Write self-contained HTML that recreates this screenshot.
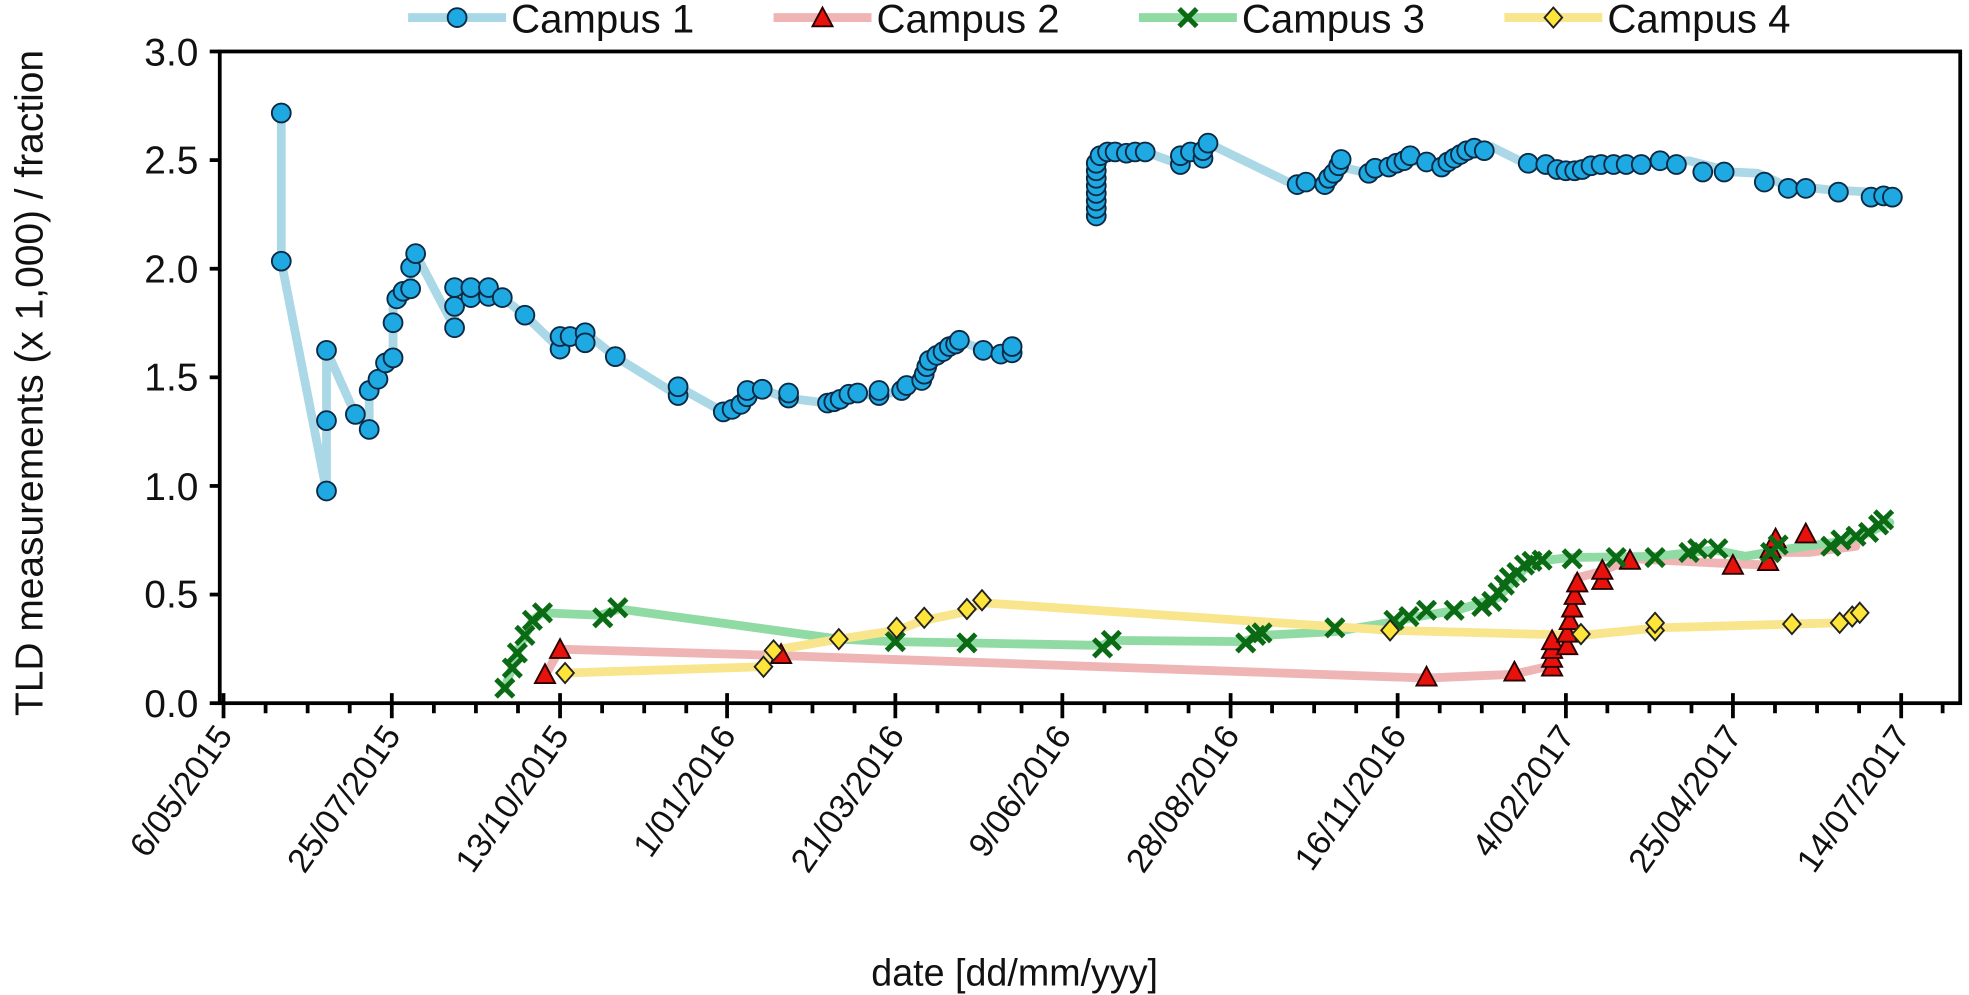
<!DOCTYPE html>
<html><head><meta charset="utf-8"><style>
html,body{margin:0;padding:0;background:#fff;}
svg{display:block;}
text{font-family:"Liberation Sans",Arial,sans-serif;fill:#111;}
</style></head><body>
<svg width="1969" height="995" viewBox="0 0 1568 792.4" preserveAspectRatio="none" xmlns="http://www.w3.org/2000/svg">
<defs>
<symbol id="c" overflow="visible"><circle cx="0" cy="0" r="7.5" fill="#1ea9e2" stroke="#0b2a45" stroke-width="1.5"/></symbol>
<symbol id="t" overflow="visible"><polygon points="0,-9 8,6 -8,6" fill="#e8120c" stroke="#2a0000" stroke-width="1.5"/></symbol>
<symbol id="x" overflow="visible"><path d="M-7,-7L7,7M-7,7L7,-7" stroke="#0b6a14" stroke-width="4"/></symbol>
<symbol id="d" overflow="visible"><polygon points="0,-8 7,0 0,8 -7,0" fill="#ffe53a" stroke="#222" stroke-width="1.5"/></symbol>
</defs>

<rect x="175" y="41" width="1386" height="519" fill="none" stroke="#000" stroke-width="3"/>
<g stroke="#000" stroke-width="3">
<line x1="167" y1="41" x2="175" y2="41"/><line x1="167" y1="127.5" x2="175" y2="127.5"/>
<line x1="167" y1="214" x2="175" y2="214"/><line x1="167" y1="300.5" x2="175" y2="300.5"/>
<line x1="167" y1="387" x2="175" y2="387"/><line x1="167" y1="473.5" x2="175" y2="473.5"/>
<line x1="167" y1="560" x2="175" y2="560"/>
</g>
<g font-size="31" text-anchor="end">
<text x="158" y="52">3.0</text><text x="158" y="138">2.5</text><text x="158" y="225">2.0</text>
<text x="158" y="311">1.5</text><text x="158" y="398">1.0</text><text x="158" y="484">0.5</text><text x="158" y="571">0.0</text>
</g>
<g stroke="#000" stroke-width="3">
<line x1="178" y1="552" x2="178" y2="572"/><line x1="312" y1="552" x2="312" y2="572"/><line x1="446" y1="552" x2="446" y2="572"/>
<line x1="579" y1="552" x2="579" y2="572"/><line x1="713" y1="552" x2="713" y2="572"/><line x1="846" y1="552" x2="846" y2="572"/>
<line x1="980" y1="552" x2="980" y2="572"/><line x1="1113" y1="552" x2="1113" y2="572"/><line x1="1247" y1="552" x2="1247" y2="572"/>
<line x1="1380" y1="552" x2="1380" y2="572"/><line x1="1514" y1="552" x2="1514" y2="572"/>
<path d="M211.5,560v8M245,560v8M278.5,560v8M345.5,560v8M379,560v8M412.5,560v8M479.5,560v8M513,560v8M546.5,560v8M613.5,560v8M647,560v8M680.5,560v8M746.5,560v8M780,560v8M813.5,560v8M879.5,560v8M913,560v8M946.5,560v8M1013,560v8M1046.5,560v8M1080,560v8M1146.5,560v8M1180,560v8M1213.5,560v8M1280,560v8M1313.5,560v8M1347,560v8M1413.5,560v8M1447,560v8M1480.5,560v8M1547,560v8"/>
</g>
<g font-size="27" text-anchor="end">
<text transform="translate(186,586) rotate(-55)">6/05/2015</text>
<text transform="translate(320,586) rotate(-55)">25/07/2015</text>
<text transform="translate(454,586) rotate(-55)">13/10/2015</text>
<text transform="translate(587,586) rotate(-55)">1/01/2016</text>
<text transform="translate(721,586) rotate(-55)">21/03/2016</text>
<text transform="translate(854,586) rotate(-55)">9/06/2016</text>
<text transform="translate(988,586) rotate(-55)">28/08/2016</text>
<text transform="translate(1121,586) rotate(-55)">16/11/2016</text>
<text transform="translate(1255,586) rotate(-55)">4/02/2017</text>
<text transform="translate(1388,586) rotate(-55)">25/04/2017</text>
<text transform="translate(1522,586) rotate(-55)">14/07/2017</text>
</g>
<text x="808" y="785" font-size="30" text-anchor="middle">date [dd/mm/yyy]</text>
<text transform="translate(34,305) rotate(-90)" font-size="31" text-anchor="middle">TLD measurements (x 1,000) / fraction</text>

<line x1="325" y1="14" x2="403" y2="14" stroke="#a8d8e6" stroke-width="7"/><use href="#c" x="364" y="14"/>
<text x="407" y="26" font-size="32">Campus 1</text>
<line x1="616" y1="14" x2="694" y2="14" stroke="#efb5b5" stroke-width="7"/><use href="#t" x="655" y="15"/>
<text x="698" y="26" font-size="32">Campus 2</text>
<line x1="907" y1="14" x2="985" y2="14" stroke="#90dba3" stroke-width="7"/><use href="#x" x="946" y="14"/>
<text x="989" y="26" font-size="32">Campus 3</text>
<line x1="1198" y1="14" x2="1276" y2="14" stroke="#f9e58c" stroke-width="7"/><use href="#d" x="1237" y="14"/>
<text x="1280" y="26" font-size="32">Campus 4</text>

<g fill="none" stroke-width="7" stroke-linejoin="round" stroke-linecap="round">
<polyline stroke="#aad8e6" points="224,90 224,208 260,391 260,335 260,279 283,330 294,342 294,311 301,302 307,289 313,285 313,257 313,238 319,234 327,230 327,213 331,202 362,261 362,244 362,229 375,237 389,236 400,237 418,251 446,278 454,268 466,265 490,284 540,315 540,308 576,328 583,326 590,322 595,316 607,310 626,317 659,321 669,323 679,314 700,315 718,311 734,303 740,287 751,280 764,271 783,279 798,282 806,276"/>
<polyline stroke="#aad8e6" points="870,172 870,130 875,122 912,121 940,131 948,121 962,114 1030,147 1052,146 1068,133 1090,138 1124,128 1148,132 1188,117 1210,128 1240,137 1258,137 1278,131 1320,129 1345,128 1380,137 1400,138 1420,147 1455,151 1490,153 1507,157"/>
<polyline stroke="#efb5b5" points="434,538 446,517 620,522 1136,540 1205,537 1236,530 1250,500 1256,460 1272,456 1300,445 1380,449 1410,450 1415,440 1440,440 1478,435"/>
<polyline stroke="#90dba3" points="402,548 413,517 424,494 432,488 478,490 493,485 668,509 710,511 770,512 878,514 885,510 990,511 1005,506 1063,503 1105,496 1135,490 1160,486 1193,476 1213,454 1225,447 1250,444 1320,443 1365,438 1390,443 1425,437 1460,432 1480,428 1505,416"/>
<polyline stroke="#f9e58c" points="450,536 607,531 615,518 668,509 714,502 736,494 770,487 782,480 1107,502 1260,506 1320,500 1427,497 1465,496 1480,490"/>
</g>

<g>
<use href="#c" x="224" y="90"/><use href="#c" x="224" y="208"/><use href="#c" x="260" y="391"/><use href="#c" x="260" y="335"/><use href="#c" x="260" y="279"/><use href="#c" x="283" y="330"/><use href="#c" x="294" y="342"/><use href="#c" x="294" y="311"/><use href="#c" x="301" y="302"/><use href="#c" x="307" y="289"/><use href="#c" x="313" y="285"/><use href="#c" x="313" y="257"/><use href="#c" x="316" y="238"/><use href="#c" x="321" y="232"/><use href="#c" x="327" y="230"/><use href="#c" x="327" y="213"/><use href="#c" x="331" y="202"/><use href="#c" x="362" y="261"/><use href="#c" x="362" y="244"/><use href="#c" x="362" y="229"/><use href="#c" x="375" y="237"/><use href="#c" x="375" y="229"/><use href="#c" x="389" y="236"/><use href="#c" x="389" y="229"/><use href="#c" x="400" y="237"/><use href="#c" x="418" y="251"/><use href="#c" x="446" y="278"/><use href="#c" x="446" y="268"/><use href="#c" x="454" y="268"/><use href="#c" x="466" y="265"/><use href="#c" x="466" y="273"/><use href="#c" x="490" y="284"/><use href="#c" x="540" y="315"/><use href="#c" x="540" y="308"/><use href="#c" x="576" y="328"/><use href="#c" x="583" y="326"/><use href="#c" x="590" y="322"/><use href="#c" x="595" y="316"/><use href="#c" x="595" y="311"/><use href="#c" x="607" y="310"/><use href="#c" x="628" y="317"/><use href="#c" x="628" y="313"/><use href="#c" x="659" y="321"/><use href="#c" x="664" y="320"/><use href="#c" x="669" y="318"/><use href="#c" x="676" y="314"/><use href="#c" x="683" y="313"/><use href="#c" x="700" y="315"/><use href="#c" x="700" y="311"/><use href="#c" x="718" y="311"/><use href="#c" x="722" y="307"/><use href="#c" x="734" y="303"/><use href="#c" x="736" y="298"/><use href="#c" x="738" y="292"/><use href="#c" x="740" y="287"/><use href="#c" x="746" y="283"/><use href="#c" x="751" y="280"/><use href="#c" x="756" y="276"/><use href="#c" x="761" y="274"/><use href="#c" x="764" y="271"/><use href="#c" x="783" y="279"/><use href="#c" x="797" y="282"/><use href="#c" x="806" y="281"/><use href="#c" x="806" y="276"/>
<use href="#c" x="873" y="172"/><use href="#c" x="873" y="166"/><use href="#c" x="873" y="160"/><use href="#c" x="873" y="154"/><use href="#c" x="873" y="148"/><use href="#c" x="873" y="142"/><use href="#c" x="873" y="136"/><use href="#c" x="873" y="130"/><use href="#c" x="876" y="124"/><use href="#c" x="882" y="121"/><use href="#c" x="888" y="121"/><use href="#c" x="897" y="122"/><use href="#c" x="904" y="121"/><use href="#c" x="912" y="121"/><use href="#c" x="940" y="131"/><use href="#c" x="940" y="124"/><use href="#c" x="948" y="121"/><use href="#c" x="958" y="126"/><use href="#c" x="958" y="120"/><use href="#c" x="962" y="114"/><use href="#c" x="1033" y="147"/><use href="#c" x="1040" y="145"/><use href="#c" x="1055" y="147"/><use href="#c" x="1058" y="142"/><use href="#c" x="1062" y="138"/><use href="#c" x="1066" y="132"/><use href="#c" x="1068" y="127"/><use href="#c" x="1090" y="138"/><use href="#c" x="1095" y="134"/><use href="#c" x="1106" y="133"/><use href="#c" x="1112" y="130"/><use href="#c" x="1118" y="128"/><use href="#c" x="1123" y="124"/><use href="#c" x="1136" y="129"/><use href="#c" x="1148" y="133"/><use href="#c" x="1153" y="129"/><use href="#c" x="1158" y="126"/><use href="#c" x="1163" y="123"/><use href="#c" x="1168" y="120"/><use href="#c" x="1174" y="118"/><use href="#c" x="1182" y="120"/><use href="#c" x="1217" y="130"/><use href="#c" x="1231" y="131"/><use href="#c" x="1240" y="135"/><use href="#c" x="1247" y="136"/><use href="#c" x="1254" y="136"/><use href="#c" x="1260" y="135"/><use href="#c" x="1267" y="132"/><use href="#c" x="1275" y="131"/><use href="#c" x="1285" y="131"/><use href="#c" x="1295" y="131"/><use href="#c" x="1307" y="131"/><use href="#c" x="1322" y="128"/><use href="#c" x="1335" y="131"/><use href="#c" x="1356" y="137"/><use href="#c" x="1373" y="137"/><use href="#c" x="1405" y="145"/><use href="#c" x="1424" y="150"/><use href="#c" x="1438" y="150"/><use href="#c" x="1464" y="153"/><use href="#c" x="1490" y="157"/><use href="#c" x="1500" y="156"/><use href="#c" x="1507" y="157"/>
</g>
<g>
<use href="#t" x="434" y="538"/><use href="#t" x="446" y="518"/><use href="#t" x="622" y="522"/><use href="#t" x="1136" y="540"/><use href="#t" x="1206" y="536"/><use href="#t" x="1236" y="532"/><use href="#t" x="1236" y="525"/><use href="#t" x="1236" y="518"/><use href="#t" x="1236" y="511"/><use href="#t" x="1248" y="515"/><use href="#t" x="1248" y="505"/><use href="#t" x="1250" y="495"/><use href="#t" x="1252" y="485"/><use href="#t" x="1254" y="475"/><use href="#t" x="1256" y="465"/><use href="#t" x="1276" y="463"/><use href="#t" x="1276" y="455"/><use href="#t" x="1298" y="447"/><use href="#t" x="1380" y="451"/><use href="#t" x="1408" y="448"/><use href="#t" x="1410" y="438"/><use href="#t" x="1414" y="430"/><use href="#t" x="1438" y="426"/>
</g>
<g>
<use href="#x" x="402" y="548"/><use href="#x" x="408" y="532"/><use href="#x" x="412" y="520"/><use href="#x" x="418" y="506"/><use href="#x" x="424" y="494"/><use href="#x" x="432" y="488"/><use href="#x" x="480" y="492"/><use href="#x" x="492" y="484"/><use href="#x" x="713" y="511"/><use href="#x" x="770" y="512"/><use href="#x" x="878" y="516"/><use href="#x" x="885" y="510"/><use href="#x" x="992" y="512"/><use href="#x" x="1000" y="506"/><use href="#x" x="1005" y="504"/><use href="#x" x="1063" y="500"/><use href="#x" x="1110" y="494"/><use href="#x" x="1122" y="491"/><use href="#x" x="1136" y="486"/><use href="#x" x="1158" y="486"/><use href="#x" x="1180" y="483"/><use href="#x" x="1188" y="479"/><use href="#x" x="1193" y="472"/><use href="#x" x="1198" y="466"/><use href="#x" x="1202" y="460"/><use href="#x" x="1208" y="456"/><use href="#x" x="1214" y="450"/><use href="#x" x="1220" y="447"/><use href="#x" x="1228" y="446"/><use href="#x" x="1252" y="445"/><use href="#x" x="1287" y="444"/><use href="#x" x="1318" y="444"/><use href="#x" x="1345" y="440"/><use href="#x" x="1352" y="437"/><use href="#x" x="1368" y="437"/><use href="#x" x="1410" y="440"/><use href="#x" x="1416" y="434"/><use href="#x" x="1458" y="435"/><use href="#x" x="1466" y="430"/><use href="#x" x="1478" y="427"/><use href="#x" x="1488" y="424"/><use href="#x" x="1496" y="418"/><use href="#x" x="1500" y="414"/>
</g>
<g>
<use href="#d" x="450" y="536"/><use href="#d" x="608" y="531"/><use href="#d" x="616" y="518"/><use href="#d" x="668" y="509"/><use href="#d" x="714" y="500"/><use href="#d" x="736" y="492"/><use href="#d" x="770" y="485"/><use href="#d" x="782" y="478"/><use href="#d" x="1107" y="502"/><use href="#d" x="1259" y="505"/><use href="#d" x="1318" y="502"/><use href="#d" x="1318" y="496"/><use href="#d" x="1427" y="497"/><use href="#d" x="1465" y="496"/><use href="#d" x="1475" y="491"/><use href="#d" x="1481" y="488"/>
</g>
</svg>
</body></html>
